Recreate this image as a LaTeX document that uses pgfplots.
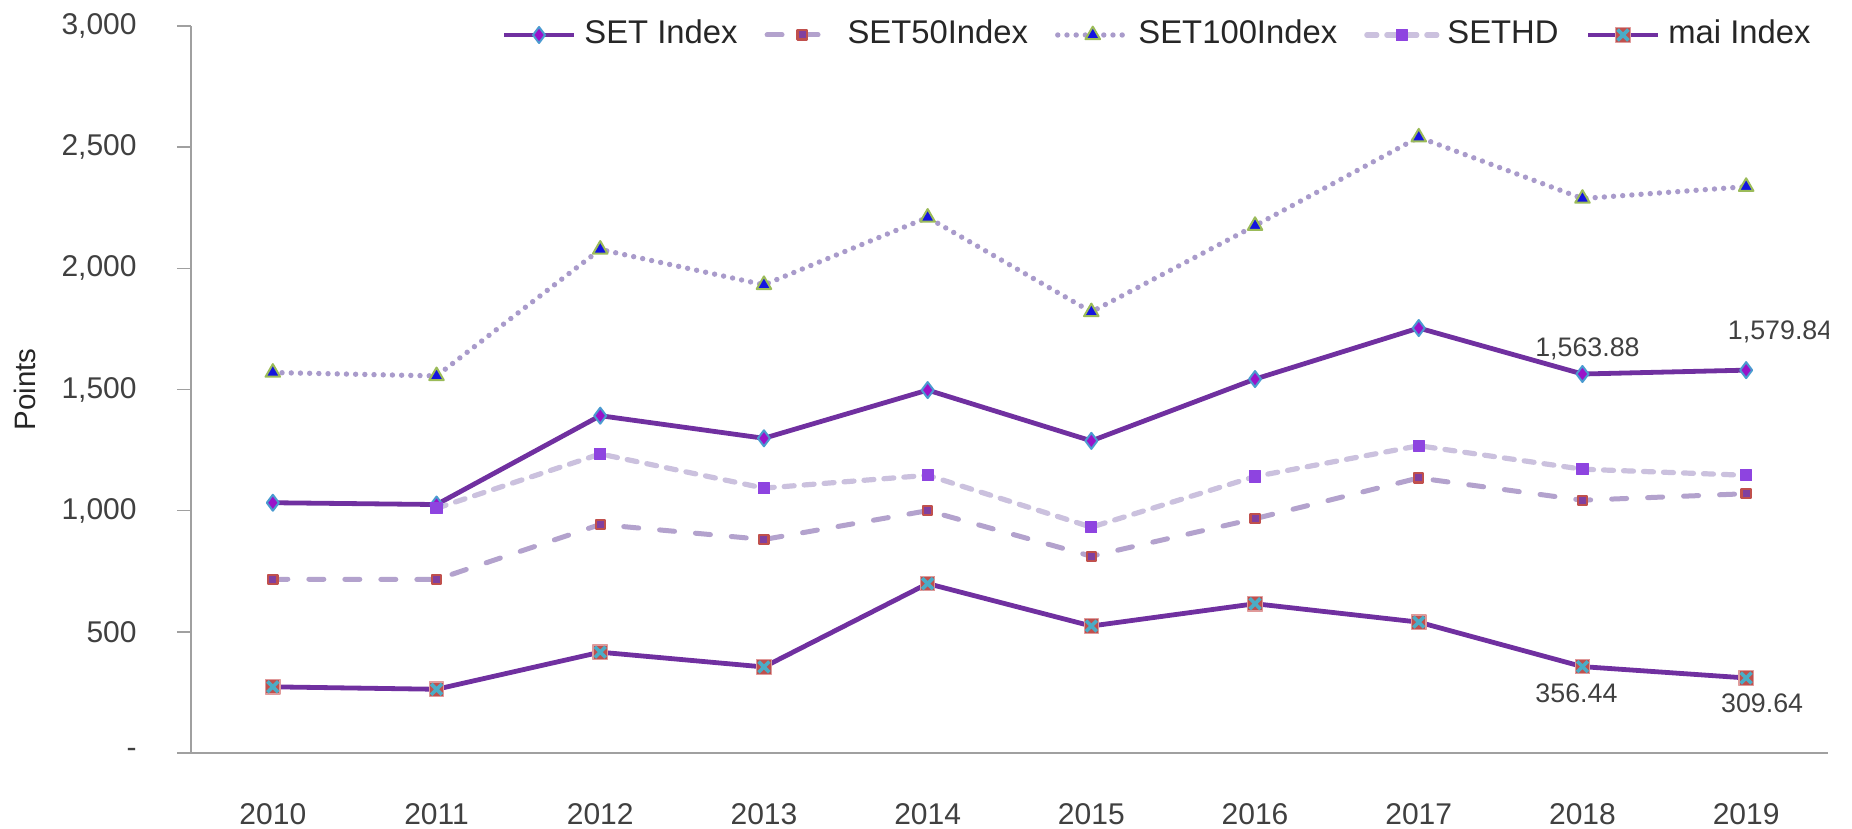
\documentclass[border=0pt]{standalone}
\usepackage{pgfplots}
\pgfplotsset{compat=1.18}
\usepackage{fontspec}
\setmainfont{Liberation Sans}
\definecolor{setpur}{HTML}{7030A0}
\definecolor{setfill}{HTML}{9A12C8}
\definecolor{setedge}{HTML}{4A9AD0}
\definecolor{sfifty}{HTML}{B3A2CD}
\definecolor{sfiftyred}{HTML}{C0504D}
\definecolor{sfiftyfill}{HTML}{8040A0}
\definecolor{shund}{HTML}{A99BCB}
\definecolor{triblue}{HTML}{1414E0}
\definecolor{trigreen}{HTML}{9BBB59}
\definecolor{shd}{HTML}{CBC1DE}
\definecolor{shdmark}{HTML}{8E44E0}
\definecolor{maired}{HTML}{C0504D}
\definecolor{maiedge}{HTML}{E09A9A}
\definecolor{maicyan}{HTML}{4BACC6}
\definecolor{axisgray}{HTML}{A0A0A0}
\definecolor{textgray}{HTML}{404040}
\definecolor{legtext}{HTML}{262626}
\pgfdeclareplotmark{sqx}{%
 \pgfpathrectangle{\pgfqpoint{-\pgfplotmarksize}{-\pgfplotmarksize}}{\pgfqpoint{2\pgfplotmarksize}{2\pgfplotmarksize}}%
 \pgfsetfillcolor{maired}\pgfsetstrokecolor{maiedge}\pgfsetlinewidth{0.6bp}\pgfusepath{fill,stroke}%
 \pgfsetstrokecolor{maicyan}\pgfsetlinewidth{1.8bp}%
 \pgfpathmoveto{\pgfqpoint{-0.75\pgfplotmarksize}{-0.75\pgfplotmarksize}}\pgfpathlineto{\pgfqpoint{0.75\pgfplotmarksize}{0.75\pgfplotmarksize}}%
 \pgfpathmoveto{\pgfqpoint{-0.75\pgfplotmarksize}{0.75\pgfplotmarksize}}\pgfpathlineto{\pgfqpoint{0.75\pgfplotmarksize}{-0.75\pgfplotmarksize}}%
 \pgfusepath{stroke}}
\begin{document}
\begin{tikzpicture}
\begin{axis}[
 at={(0,0)}, anchor=south west,
 scale only axis, width=818.5bp, height=363.5bp,
 xmin=-0.5, xmax=9.5, ymin=0, ymax=3000,
 axis lines*=left,
 axis line style={draw=axisgray, line width=0.8bp},
 xtick={0,1,2,3,4,5,6,7,8,9},
 xticklabels={2010,2011,2012,2013,2014,2015,2016,2017,2018,2019},
 ytick={0,500,1000,1500,2000,2500,3000},
 yticklabels={-,500,{1,000},{1,500},{2,000},{2,500},{3,000}},
 x tick style={draw=none},
 y tick style={draw=axisgray, line width=0.8bp},
 tick align=outside, major tick length=7bp,
 ticklabel style={font=\fontsize{15bp}{17bp}\selectfont, text=textgray},
 yticklabel style={anchor=east, inner sep=0pt, xshift=-20bp},
 xticklabel style={anchor=center, inner sep=0pt, yshift=-23.5bp},
 ylabel={Points},
 ylabel style={at={(axis description cs:-0.1014,0.5)}, anchor=center, font=\fontsize{14.75bp}{17bp}\selectfont, text=legtext},
 legend columns=5,
 legend cell align=left,
 legend style={at={(axis description cs:0.98962,0.98762)}, anchor=east, draw=none, fill=none, inner sep=0pt,
   font=\fontsize{16.4bp}{19bp}\selectfont, text=legtext,
   nodes={inner sep=0pt, text height=11.8bp, text depth=3.4bp},
   /tikz/every odd column/.append style={column sep=4bp},
   /tikz/every even column/.append style={column sep=13.5bp}},
 legend image code/.code={\draw[mark repeat=2,mark phase=2,#1] plot coordinates {(0bp,0bp) (17.5bp,0bp) (35bp,0bp)};},
 every axis plot/.append style={line join=round},
]
\addplot[color=setpur, line width=2.4bp, mark=diamond*, mark size=4bp,
  mark options={solid, fill=setfill, draw=setedge, line width=1bp}]
 coordinates {(0,1032.76) (1,1025.32) (2,1391.93) (3,1298.71) (4,1497.67) (5,1288.02) (6,1542.94) (7,1753.71) (8,1563.88) (9,1579.84)};
\addlegendentry{SET Index}
\addplot[color=sfifty, line width=2.5bp, line cap=round, dash pattern=on 7.5bp off 10.5bp, mark=square*, mark size=2.3bp,
  mark options={solid, fill=sfiftyfill, draw=sfiftyred, line width=1.1bp}]
 coordinates {(0,717) (1,716) (2,943) (3,881) (4,1000) (5,812) (6,967) (7,1135) (8,1043) (9,1070)};
\addlegendentry{SET50Index}
\addplot[color=shund, line width=2.7bp, line cap=round, dash pattern=on 0bp off 4.6bp, mark=triangle*, mark size=4.2bp,
  mark options={solid, fill=triblue, draw=trigreen, line width=1bp}]
 coordinates {(0,1570) (1,1556) (2,2078) (3,1932) (4,2210) (5,1820) (6,2176) (7,2541) (8,2288) (9,2337)};
\addlegendentry{SET100Index}
\addplot[color=shd, line width=2.6bp, line cap=round, dash pattern=on 5bp off 5bp, mark=square*, mark size=2.8bp,
  mark options={solid, fill=shdmark, draw=shdmark, line width=0.5bp}]
 coordinates {(1,1010) (2,1234) (3,1093) (4,1146) (5,932) (6,1141) (7,1268) (8,1171) (9,1146)};
\addlegendentry{SETHD}
\addplot[color=setpur, line width=2.4bp, mark=sqx, mark size=3.6bp, mark options={solid}]
 coordinates {(0,273) (1,263) (2,416) (3,355) (4,699) (5,524) (6,616) (7,540) (8,356.44) (9,309.64)};
\addlegendentry{mai Index}
\node[font=\fontsize{13.4bp}{15bp}\selectfont, text=textgray, xshift=2.5bp, yshift=12.5bp] at (axis cs:8,1563.88) {1,563.88};
\node[font=\fontsize{13.4bp}{15bp}\selectfont, text=textgray, xshift=17bp, yshift=19bp] at (axis cs:9,1579.84) {1,579.84};
\node[font=\fontsize{13.4bp}{15bp}\selectfont, text=textgray, xshift=-3bp, yshift=-13.5bp] at (axis cs:8,356.44) {356.44};
\node[font=\fontsize{13.4bp}{15bp}\selectfont, text=textgray, xshift=8bp, yshift=-12.5bp] at (axis cs:9,309.64) {309.64};
\end{axis}
\pgfresetboundingbox
\path (-95.5bp,-38bp) rectangle (830.5bp,376.5bp);
\end{tikzpicture}
\end{document}
